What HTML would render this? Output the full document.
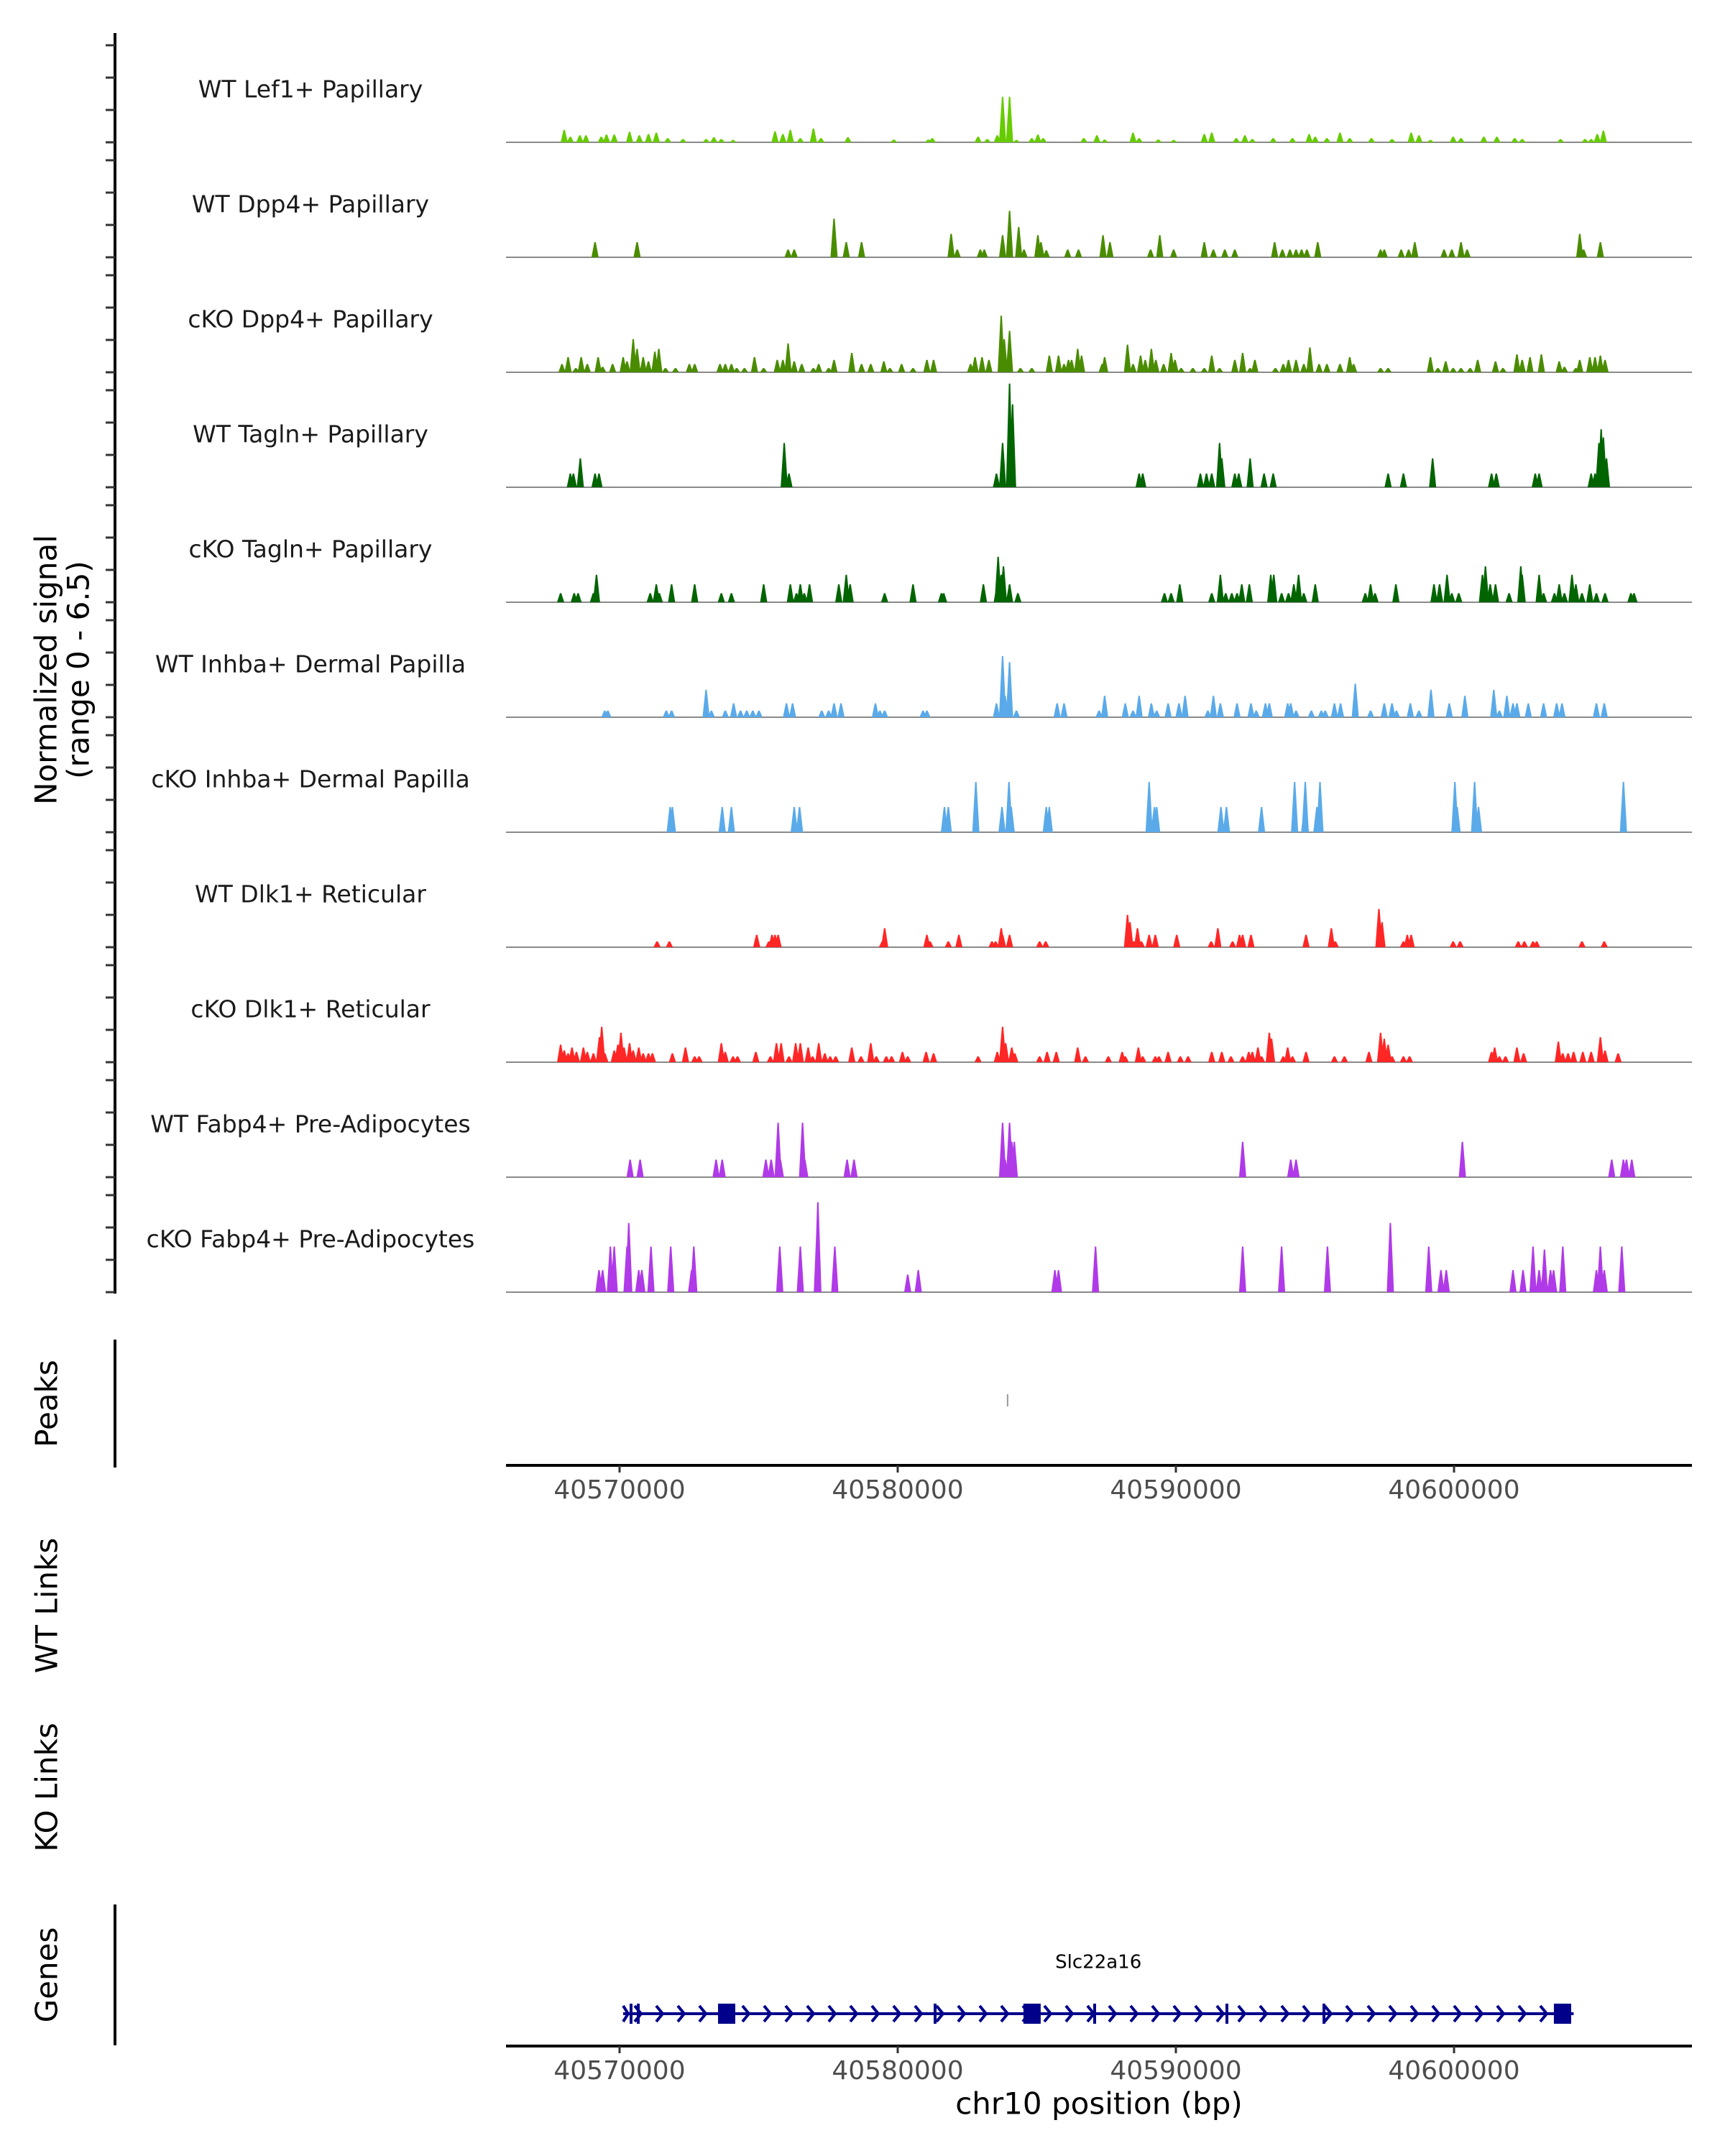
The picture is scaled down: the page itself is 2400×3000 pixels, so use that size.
<!DOCTYPE html>
<html><head><meta charset="utf-8"><style>
html,body{margin:0;padding:0;background:#fff;}
svg{display:block;font-family:"DejaVu Sans","Liberation Sans",sans-serif;}
</style></head><body>
<svg id="chart" width="2400" height="3000" viewBox="0 0 2400 3000" xmlns="http://www.w3.org/2000/svg"></svg>
<script>
const trackNames=["WT Lef1+ Papillary","WT Dpp4+ Papillary","cKO Dpp4+ Papillary","WT Tagln+ Papillary","cKO Tagln+ Papillary","WT Inhba+ Dermal Papilla","cKO Inhba+ Dermal Papilla","WT Dlk1+ Reticular","cKO Dlk1+ Reticular","WT Fabp4+ Pre-Adipocytes","cKO Fabp4+ Pre-Adipocytes"];
const trackColors=["#66cc00","#4a8c00","#4a8c00","#006400","#006400","#5aaaea","#5aaaea","#ff2626","#ff2626","#b03ae8","#b03ae8"];
const xTicks=[40570000,40580000,40590000,40600000];
const yRangeMax=6.5;
const peakRegions=[40583950];
// positions in kb, signal values
const lef1Pos=[40568.01,40568.23,40568.57,40568.79,40569.34,40569.53,40569.81,40570.36,40570.71,40571.04,40571.32,40571.73,40572.28,40573.11,40573.39,40573.66,40574.08,40575.59,40575.87,40576.14,40576.5,40576.97,40577.24,40578.21,40579.86,40581.1,40581.24,40582.89,40583.22,40583.58,40583.77,40584.02,40584.27,40584.82,40585.04,40585.23,40586.69,40587.16,40587.44,40588.46,40588.68,40589.37,40589.92,40591.02,40591.29,40592.17,40592.48,40592.75,40593.5,40594.19,40594.79,40595.01,40595.43,40595.9,40596.25,40597.03,40597.77,40598.46,40598.74,40599.15,40599.97,40600.25,40601.07,40601.54,40602.18,40602.45,40603.83,40604.71,40604.93,40605.15,40605.37];
const lef1Val=[.77,.34,.43,.43,.34,.48,.48,.65,.43,.51,.6,.26,.2,.2,.31,.2,.14,.68,.51,.77,.26,.85,.26,.31,.17,.17,.26,.34,.2,.43,2.82,2.82,.14,.26,.48,.26,.26,.43,.17,.6,.26,.17,.14,.51,.6,.26,.43,.2,.26,.26,.51,.34,.26,.6,.26,.26,.2,.6,.43,.14,.34,.26,.34,.34,.26,.2,.2,.2,.2,.51,.72];
const wtDpp4Pos=[40569.12,40570.63,40576.06,40576.28,40577.71,40578.15,40578.7,40581.92,40582.14,40582.97,40583.11,40583.77,40584.02,40584.35,40584.54,40585.04,40585.15,40585.34,40586.11,40586.5,40587.38,40587.63,40589.09,40589.42,40589.92,40591.02,40591.35,40591.76,40592.12,40593.55,40593.83,40594.1,40594.32,40594.52,40594.71,40595.1,40597.36,40597.49,40598.1,40598.37,40598.59,40599.64,40599.92,40600.25,40600.47,40604.52,40604.66,40605.26];
const wtDpp4Val=[.94,.94,.48,.48,2.39,.94,.94,1.45,.48,.48,.48,1.37,2.87,1.88,.48,1.37,.94,.43,.48,.48,1.37,.94,.48,1.37,.48,.94,.48,.48,.48,.94,.48,.48,.48,.48,.48,.94,.48,.48,.48,.48,.94,.48,.48,.94,.48,1.45,.48,.94];
const koDpp4Pos=[40567.93,40568.15,40568.43,40568.62,40568.84,40569.23,40569.39,40569.75,40570.13,40570.27,40570.49,40570.63,40570.85,40571.04,40571.27,40571.41,40571.65,40572.01,40572.51,40572.7,40573.61,40573.8,40574.02,40574.21,40574.49,40574.85,40575.18,40575.67,40575.87,40576.06,40576.28,40576.55,40576.97,40577.16,40577.52,40577.71,40578.35,40578.7,40579.03,40579.5,40579.72,40580.14,40580.55,40581.05,40581.29,40582.62,40582.78,40583.03,40583.28,40583.72,40583.83,40584.02,40584.41,40584.82,40585.45,40585.78,40585.98,40586.14,40586.25,40586.47,40586.61,40587.35,40587.44,40588.26,40588.46,40588.73,40588.9,40589.12,40589.28,40589.56,40589.83,40589.97,40590.19,40590.61,40591.02,40591.29,40591.57,40592.12,40592.4,40592.67,40592.84,40593.58,40593.86,40594.05,40594.32,40594.6,40594.82,40595.15,40595.43,40595.9,40596.25,40596.39,40597.36,40597.63,40599.15,40599.42,40599.7,40599.97,40600.25,40600.58,40600.85,40601.49,40601.76,40602.26,40602.45,40602.73,40603.14,40603.78,40603.97,40604.38,40604.52,40604.88,40605.07,40605.26,40605.43];
const koDpp4Val=[.51,.94,.26,.94,.51,.94,.34,.51,.94,.68,2.05,1.45,.94,.68,1.28,1.45,.26,.26,.51,.51,.51,.51,.51,.26,.26,.94,.26,.77,.77,1.79,.68,.51,.26,.51,.26,.77,1.2,.51,.51,.68,.26,.51,.26,.77,.77,.51,.94,.94,.77,3.5,2.05,2.56,.26,.26,1.03,1.03,.51,.77,.77,1.45,1.03,.51,.94,1.71,.51,1.03,.77,1.45,.77,.51,1.2,.77,.26,.26,.26,1.03,.26,.77,1.2,.26,.77,.26,.51,.77,.77,.51,1.54,.51,.51,.51,.94,.51,.26,.26,.94,.26,.68,.26,.26,.26,.77,.68,.26,1.11,.77,.94,1.11,.68,.34,.26,.77,.94,.94,1.03,.77];
const wtTaglnPos=[40568.23,40568.34,40568.59,40569.12,40569.26,40575.92,40576.09,40583.55,40583.77,40584.02,40584.13,40588.68,40588.81,40590.88,40591.1,40591.29,40591.57,40591.65,40592.12,40592.26,40592.67,40593.17,40593.5,40597.63,40598.18,40599.23,40601.35,40601.52,40602.92,40603.06,40604.93,40605.07,40605.21,40605.29,40605.37,40605.48];
const wtTaglnVal=[.85,.85,1.79,.85,.85,2.74,.85,.85,2.74,6.41,5.13,.85,.85,.85,.85,.85,2.74,1.79,.85,.85,1.79,.85,.85,.85,.85,1.79,.85,.85,.85,.85,.85,.85,2.74,3.59,3.08,1.79];
const koTaglnPos=[40567.88,40568.37,40568.51,40569.06,40569.17,40571.1,40571.32,40571.43,40571.87,40572.7,40573.66,40574.02,40575.18,40576.14,40576.36,40576.5,40576.64,40576.83,40577.88,40578.15,40578.29,40579.53,40580.55,40581.57,40581.65,40583.08,40583.58,40583.61,40583.72,40583.8,40584.02,40584.32,40589.59,40589.83,40590.14,40591.29,40591.6,40591.79,40592.01,40592.2,40592.37,40592.64,40593.41,40593.52,40593.8,40594.05,40594.24,40594.41,40594.6,40595.01,40596.81,40597.0,40597.16,40597.91,40599.28,40599.48,40599.75,40599.92,40600.17,40601.02,40601.13,40601.3,40601.49,40601.98,40602.4,40602.45,40603.06,40603.22,40603.61,40603.78,40603.97,40604.24,40604.38,40604.6,40604.88,40605.12,40605.43,40606.36,40606.47];
const koTaglnVal=[.56,.56,.56,.56,1.7,.56,1.11,.56,1.11,1.11,.56,.56,1.11,1.11,.56,1.11,.56,1.11,1.11,1.7,1.11,.56,1.11,.56,.56,1.11,1.11,2.81,1.7,2.22,1.11,.56,.56,.56,1.11,.56,1.7,.56,.56,.56,1.11,1.11,1.7,1.7,.56,.56,1.11,1.7,.56,1.11,.56,1.11,.56,1.11,1.11,1.11,1.7,.56,.56,1.7,2.22,1.11,1.11,.56,2.22,1.7,1.7,.56,.56,1.11,.56,1.7,1.11,.56,1.11,.56,.56,.56,.56];
const wtInhbaPos=[40569.47,40569.58,40571.68,40571.87,40573.11,40573.3,40573.8,40574.1,40574.35,40574.57,40574.79,40575.01,40576.0,40576.22,40577.27,40577.52,40577.71,40577.96,40579.2,40579.36,40579.53,40580.91,40581.05,40583.55,40583.77,40583.86,40584.02,40584.27,40585.73,40585.98,40587.24,40587.44,40588.18,40588.46,40588.68,40589.12,40589.31,40589.72,40590.11,40590.33,40591.15,40591.35,40591.6,40592.2,40592.7,40592.89,40593.22,40593.36,40594.02,40594.13,40594.32,40594.87,40595.23,40595.37,40595.7,40595.92,40596.45,40597.0,40597.49,40597.77,40597.93,40598.43,40598.74,40599.17,40599.83,40600.39,40601.43,40601.63,40601.9,40602.12,40602.26,40602.67,40603.22,40603.69,40603.88,40605.12,40605.4];
const wtInhbaVal=[.41,.41,.41,.41,1.7,.41,.41,.86,.41,.41,.41,.41,.86,.86,.41,.41,.86,.86,.86,.41,.41,.41,.41,.86,3.78,1.33,3.41,.41,.86,.86,.41,1.33,.86,.41,1.33,.86,.41,.86,.86,1.33,.41,1.33,.86,.86,.86,.41,.86,.86,.86,.86,.41,.41,.41,.41,.86,.86,2.07,.41,.86,.86,.41,.86,.41,1.7,.86,1.33,1.7,.41,1.33,.86,.86,.86,.86,.86,.86,.86,.86];
const koInhbaPos=[40571.82,40571.9,40573.69,40574.02,40576.28,40576.47,40581.68,40581.82,40582.81,40583.75,40584.0,40584.08,40585.34,40585.45,40589.04,40589.23,40589.31,40591.62,40591.82,40593.08,40594.27,40594.63,40594.65,40595.07,40595.18,40600.03,40600.11,40600.74,40600.88,40606.09];
const koInhbaVal=[1.56,1.56,1.56,1.56,1.56,1.56,1.56,1.56,3.11,1.56,3.11,1.56,1.56,1.56,3.11,1.56,1.56,1.56,1.56,1.56,3.11,1.56,3.11,1.56,3.11,3.11,1.56,3.11,1.56,3.11];
const wtDlk1Pos=[40571.35,40571.79,40574.93,40575.37,40575.48,40575.59,40575.7,40579.45,40579.53,40581.05,40581.16,40581.82,40582.2,40583.39,40583.52,40583.72,40583.77,40584.02,40585.1,40585.32,40588.26,40588.35,40588.48,40588.62,40588.76,40589.04,40589.26,40590.03,40591.27,40591.51,40592.04,40592.29,40592.4,40592.7,40594.68,40595.59,40595.73,40597.3,40597.41,40598.18,40598.32,40598.46,40599.97,40600.22,40602.31,40602.53,40602.84,40602.97,40604.6,40605.4];
const wtDlk1Val=[.36,.36,.77,.36,.77,.77,.77,.36,1.18,.77,.36,.36,.77,.36,.36,1.18,.77,.77,.36,.36,2.0,1.55,.36,1.18,.36,.77,.77,.77,.36,1.18,.36,.77,.77,.77,.77,1.18,.36,2.37,1.55,.36,.77,.77,.36,.36,.36,.36,.36,.36,.36,.36];
const koDlk1Pos=[40567.88,40568.01,40568.15,40568.29,40568.45,40568.7,40568.84,40569.06,40569.28,40569.36,40569.47,40569.81,40569.94,40570.05,40570.16,40570.36,40570.49,40570.69,40570.85,40571.04,40571.18,40571.9,40572.37,40572.7,40572.86,40573.66,40573.8,40574.08,40574.24,40574.9,40575.42,40575.64,40575.81,40576.09,40576.33,40576.5,40576.78,40576.94,40577.16,40577.38,40577.57,40577.77,40578.35,40578.68,40579.03,40579.23,40579.59,40579.78,40580.17,40580.36,40581.02,40581.29,40582.89,40583.58,40583.77,40583.88,40584.1,40584.21,40585.1,40585.37,40585.7,40586.47,40586.75,40587.57,40588.07,40588.18,40588.65,40588.81,40589.26,40589.39,40589.72,40590.16,40590.44,40591.29,40591.65,40591.98,40592.4,40592.62,40592.75,40592.95,40593.08,40593.36,40593.44,40593.86,40594.02,40594.19,40594.68,40595.7,40596.06,40596.94,40597.36,40597.49,40597.63,40597.77,40598.18,40598.4,40601.35,40601.46,40601.63,40601.85,40602.26,40602.5,40603.75,40603.91,40604.1,40604.3,40604.63,40604.93,40605.26,40605.43,40605.9];
const koDlk1Val=[1.09,.73,.55,.91,.64,.91,.64,.55,1.55,2.19,.55,.73,1.09,1.82,.91,1.18,.73,.91,.55,.55,.55,.55,.91,.36,.36,1.18,.64,.36,.36,.64,.36,1.18,1.18,.36,1.18,1.18,.91,.36,1.18,.55,.36,.36,.91,.36,1.18,.36,.36,.36,.64,.36,.64,.55,.36,.64,2.19,1.18,.91,.55,.36,.64,.64,.91,.36,.36,.64,.36,.91,.36,.36,.36,.64,.36,.36,.64,.64,.36,.36,.64,.64,.91,.36,1.82,1.46,.36,.91,.36,.64,.36,.36,.64,1.82,1.46,1.09,.36,.36,.36,.64,.91,.36,.36,.91,.55,1.28,.55,.55,.64,.64,.64,1.55,.73,.55];
const wtFabp4Pos=[40570.38,40570.74,40573.47,40573.69,40575.26,40575.45,40575.7,40575.78,40576.58,40576.66,40578.18,40578.43,40583.77,40583.86,40584.02,40584.1,40584.19,40592.4,40594.13,40594.32,40600.3,40605.67,40606.09,40606.2,40606.39];
const wtFabp4Val=[1.09,1.09,1.09,1.09,1.09,1.09,3.37,1.09,3.37,1.09,1.09,1.09,3.37,1.09,3.37,2.19,2.19,2.19,1.09,1.09,2.19,1.09,1.09,1.09,1.09];
const koFabp4Pos=[40569.26,40569.39,40569.67,40569.81,40570.27,40570.33,40570.69,40570.8,40571.13,40571.84,40572.59,40572.67,40575.76,40576.5,40577.11,40577.13,40577.74,40580.36,40580.74,40585.65,40585.78,40587.11,40592.4,40593.8,40595.45,40597.71,40599.09,40599.53,40599.72,40602.12,40602.48,40602.84,40603.06,40603.25,40603.47,40603.58,40603.91,40605.12,40605.26,40605.4,40606.03];
const koFabp4Val=[1.37,1.37,2.82,2.82,2.82,4.28,1.37,1.37,2.82,2.82,1.37,2.82,2.82,2.82,4.28,5.56,2.82,1.09,1.37,1.37,1.37,2.82,2.82,2.82,2.82,4.28,2.82,1.37,1.37,1.37,1.37,2.82,1.37,2.64,1.37,1.37,2.82,1.37,2.82,1.37,2.82];
const geneName="Slc22a16";
const geneStart=40570129, geneEnd=40604300;
const thickExons=[40573850,40584830,40603900];
const thinExons=[40570413,40570672,40581344,40587080,40591835,40595323];

const allPos=[lef1Pos,wtDpp4Pos,koDpp4Pos,wtTaglnPos,koTaglnPos,wtInhbaPos,koInhbaPos,wtDlk1Pos,koDlk1Pos,wtFabp4Pos,koFabp4Pos];
const allVal=[lef1Val,wtDpp4Val,koDpp4Val,wtTaglnVal,koTaglnVal,wtInhbaVal,koInhbaVal,wtDlk1Val,koDlk1Val,wtFabp4Val,koFabp4Val];

const NS="http://www.w3.org/2000/svg";
const svg=document.getElementById('chart');
function mk(tag,attrs,parent){const e=document.createElementNS(NS,tag);for(const k in attrs)e.setAttribute(k,attrs[k]);(parent||svg).appendChild(e);return e;}
const PX_PER_BP=0.0387, X0=862;
function xScale(bp){return X0+(bp-40570000)*PX_PER_BP;}
const PLOT_L=704, PLOT_R=2354;
const BASE0=198, PITCH=160, PX_PER_UNIT=22.5;
function baseY(i){return BASE0+i*PITCH;}
function yScale(i,v){return baseY(i)-Math.min(v,yRangeMax)*PX_PER_UNIT;}

let ax=mk('line',{x1:160,y1:46,x2:160,y2:1800,stroke:'#000','stroke-width':4});


for(let i=0;i<trackNames.length;i++){
  const g=mk('g',{});
  
  
  [0,2,4,6].forEach(v=>{
    const t=mk('line',{x1:147,x2:160,y1:yScale(i,v),y2:yScale(i,v),stroke:'#333','stroke-width':3},g);
    
    
  });
  const lab=mk('text',{x:432,y:126+i*PITCH,'font-size':33,'text-anchor':'middle','dominant-baseline':'middle',fill:'#1a1a1a'},g);
  lab.textContent=trackNames[i];
  
  
  const b=baseY(i);
  const bl=mk('line',{x1:PLOT_L,x2:PLOT_R,y1:b,y2:b,stroke:'#8a8a8a','stroke-width':2},g);
  
  
  const pos=allPos[i], val=allVal[i];
  let d='';
  for(let j=0;j<pos.length;j++){
    const x=xScale(pos[j]*1000), y=yScale(i,val[j]);
    d+=`M${(x-5).toFixed(1)},${b}L${(x-1).toFixed(1)},${y.toFixed(1)}L${(x+1).toFixed(1)},${y.toFixed(1)}L${(x+5).toFixed(1)},${b}Z`;
  }
  const p=mk('path',{d:d,fill:trackColors[i]},g);
  
  
}
function vlabel(text,cx,cy,name,size){
  const t=mk('text',{x:cx,y:cy,'font-size':size||42,'text-anchor':'middle','dominant-baseline':'middle',fill:'#000',transform:`rotate(-90 ${cx} ${cy})`});
  t.textContent=text;
  
  
  return t;
}
vlabel('Normalized signal',67,932,'y-axis-title');
vlabel('(range 0 - 6.5)',112,932,'y-axis-subtitle');
vlabel('Peaks',68,1953,'peaks-label');
vlabel('WT Links',68,2234,'wt-links-label');
vlabel('KO Links',68,2487,'ko-links-label');
vlabel('Genes',68,2748,'genes-label');

let pa=mk('line',{x1:160,y1:1864,x2:160,y2:2042,stroke:'#000','stroke-width':4});


peakRegions.forEach(bp=>{
  const m=mk('line',{x1:xScale(bp),x2:xScale(bp),y1:1940,y2:1957,stroke:'#999','stroke-width':2});
  
  
});
function xAxis(y,name){
  const g=mk('g',{});
  
  
  mk('line',{x1:PLOT_L,x2:PLOT_R,y1:y,y2:y,stroke:'#000','stroke-width':4},g);
  xTicks.forEach(v=>{
    const x=xScale(v);
    mk('line',{x1:x,x2:x,y1:y,y2:y+10,stroke:'#333','stroke-width':3},g);
    const t=mk('text',{x:x,y:y+36,'font-size':36,'text-anchor':'middle','dominant-baseline':'middle',fill:'#4d4d4d'},g);
    t.textContent=v;
    
    
  });
}
xAxis(2039,'peaks-x-axis');

let ga=mk('line',{x1:160,y1:2650,x2:160,y2:2846,stroke:'#000','stroke-width':4});


const gg=mk('g',{});


const GY=2802, gx1=xScale(geneStart), gx2=xScale(geneEnd);
mk('line',{x1:gx1,x2:gx2,y1:GY,y2:GY,stroke:'#00008b','stroke-width':4},gg);
let cd='';
for(let x=gx1+20;x<gx2-14;x+=30){cd+=`M${x-4},${GY-11}L${x+5},${GY}L${x-4},${GY+11}`;}
mk('path',{d:cd,fill:'none',stroke:'#00008b','stroke-width':4},gg);
mk('path',{d:`M${gx1},${GY-11}L${gx1+7},${GY}L${gx1},${GY+11}`,fill:'none',stroke:'#00008b','stroke-width':4},gg);
thinExons.forEach(bp=>{const x=xScale(bp);mk('rect',{x:x-2,y:GY-14,width:4,height:28,fill:'#00008b'},gg);});
thickExons.forEach(bp=>{const x=xScale(bp);mk('rect',{x:x-12,y:GY-14,width:24,height:28,fill:'#00008b'},gg);});
const gl=mk('text',{x:xScale((geneStart+geneEnd)/2),y:2731,'font-size':26,'text-anchor':'middle','dominant-baseline':'middle',fill:'#000'});
gl.textContent=geneName;


xAxis(2847,'genes-x-axis');
const xt=mk('text',{x:1529,y:2930,'font-size':42,'text-anchor':'middle','dominant-baseline':'middle',fill:'#000'});
xt.textContent='chr10 position (bp)';


</script>
</body></html>
